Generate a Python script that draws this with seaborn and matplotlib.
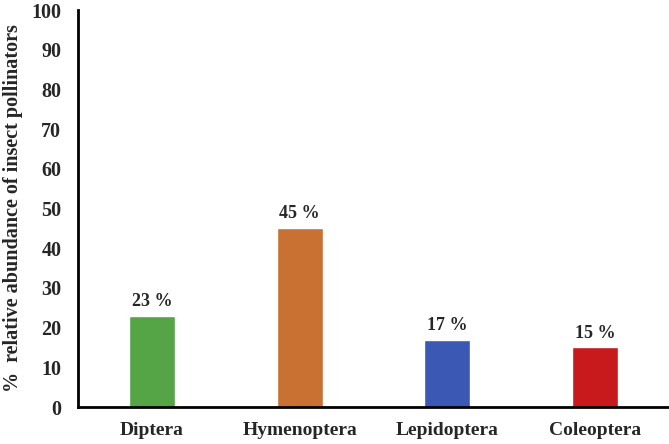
import pandas as pd
import seaborn as sns
import matplotlib.pyplot as plt

# data
orders = ['Diptera', 'Hymenoptera', 'Lepidoptera', 'Coleoptera']
abundance = [23, 45, 17, 15]
bar_colors = ['#55A546', '#C87133', '#3A58B4', '#C8191C']

df = pd.DataFrame({'order': orders, 'abundance': abundance})

sns.set_style("white")
plt.rcParams['font.family'] = ['Liberation Serif', 'DejaVu Serif']
plt.rcParams['font.weight'] = 'bold'

fig = plt.figure(figsize=(6.69, 4.44), dpi=100)
ax = fig.add_axes([0.1166, 0.0833, 0.8834, 0.894])

sns.barplot(data=df, x='order', y='abundance', hue='order', palette=bar_colors,
            width=0.31, legend=False, ax=ax, saturation=1)

for i, v in enumerate(abundance):
    ax.text(i, v + 1.5, f'{v} %', ha='center', va='bottom', fontsize=13, fontweight='bold')

ax.set_ylim(0, 100)
ax.set_xlim(-0.5, 3.5)
ax.set_yticks(range(0, 101, 10))
ax.tick_params(axis='y', length=0, labelsize=14.5, pad=12)
ax.tick_params(axis='x', length=0, labelsize=14, pad=11)
for lab in ax.get_xticklabels() + ax.get_yticklabels():
    lab.set_fontweight('bold')

ax.set_xlabel('')
ax.set_ylabel('%  relative abundance of insect pollinators', fontsize=14.5, fontweight='bold', labelpad=6)

for side in ['top', 'right']:
    ax.spines[side].set_visible(False)
for side in ['left', 'bottom']:
    ax.spines[side].set_linewidth(2)
    ax.spines[side].set_color('black')

fig.savefig("out.png", dpi=100)
